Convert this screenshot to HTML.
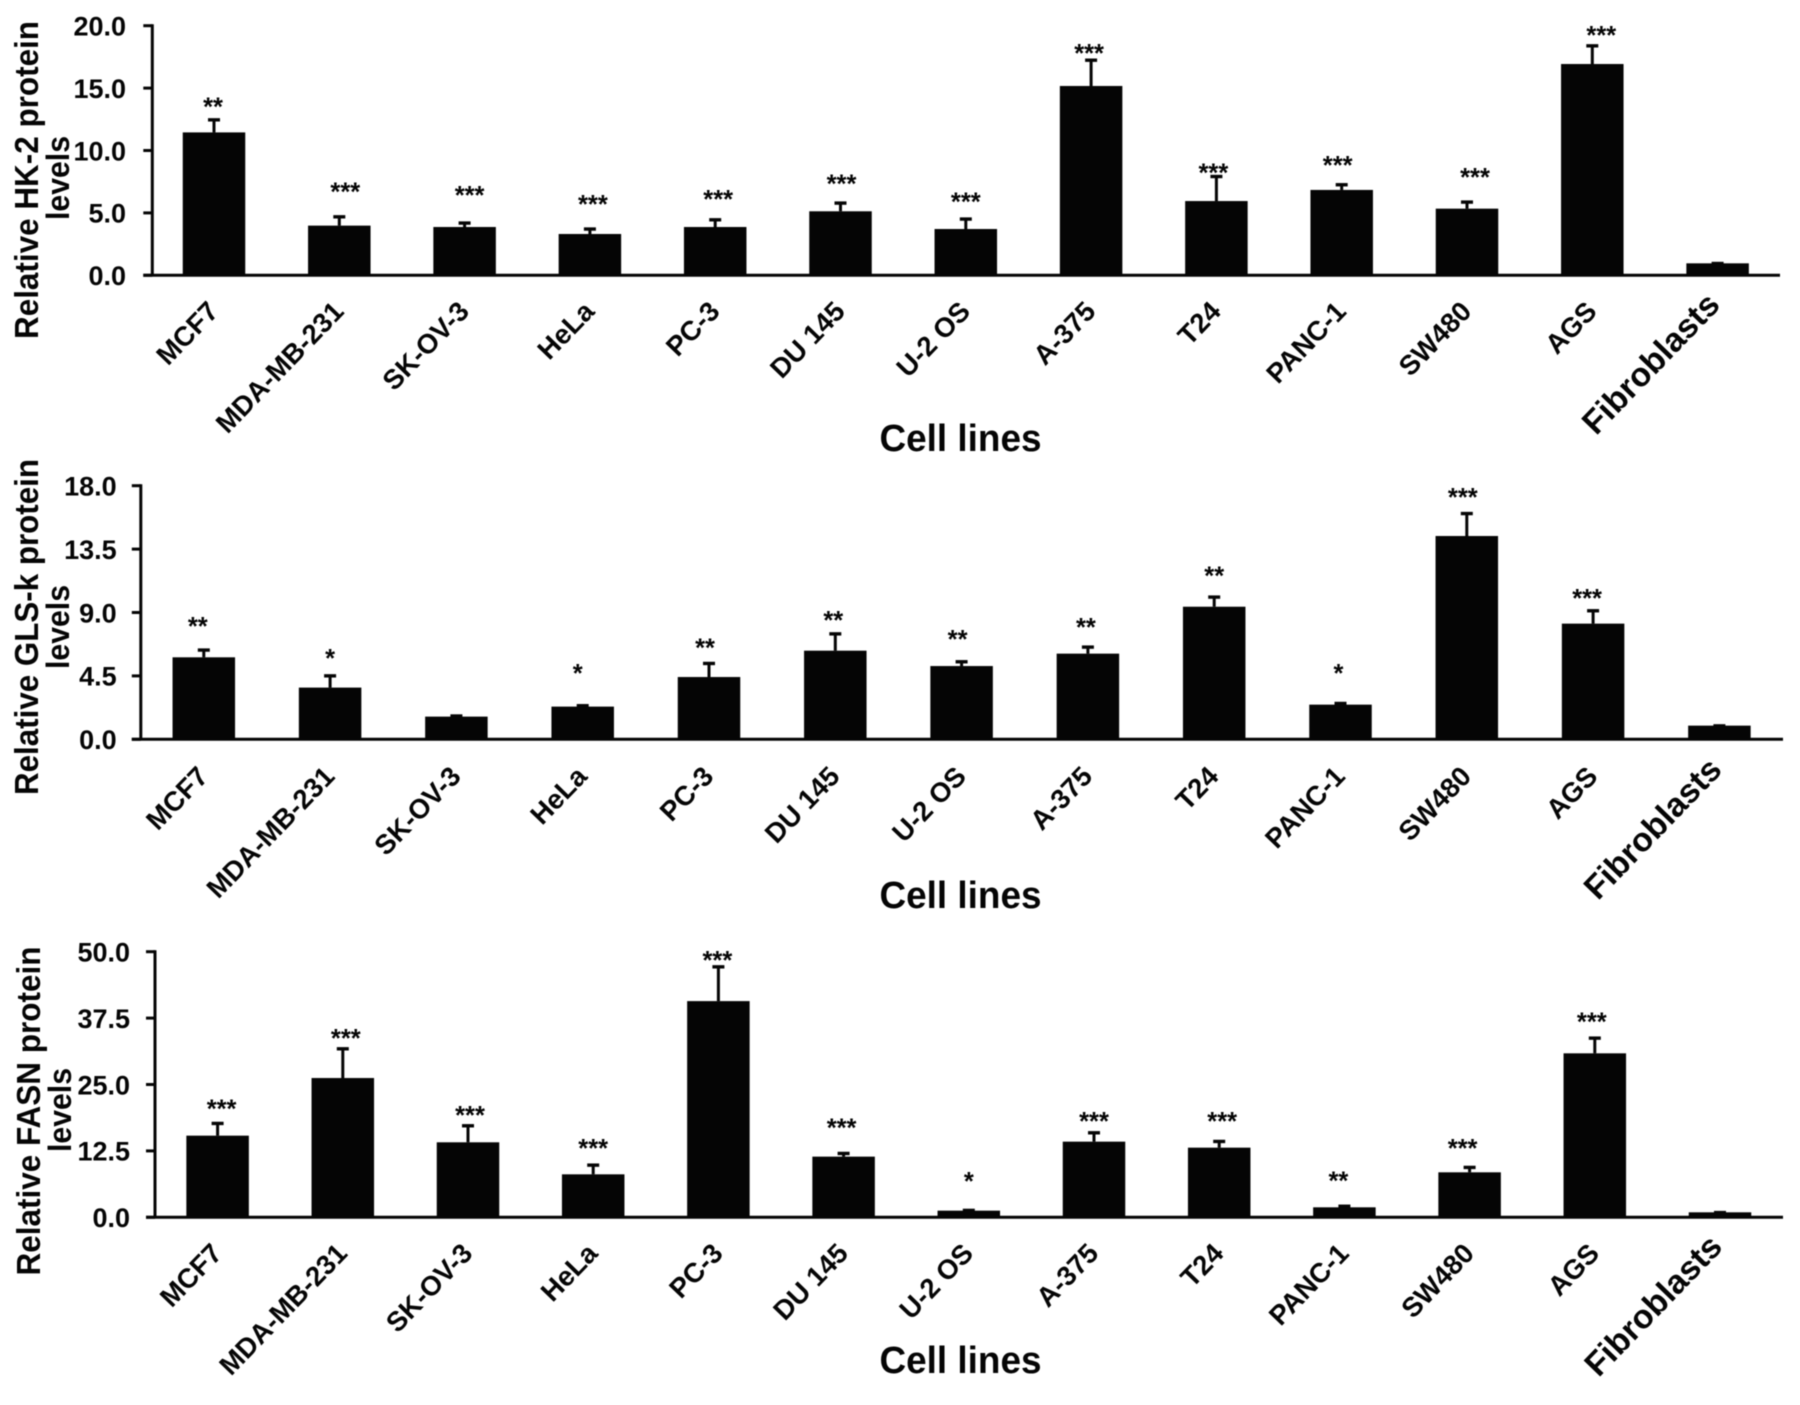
<!DOCTYPE html>
<html lang="en">
<head>
<meta charset="utf-8">
<title>Relative protein levels by cell line</title>
<style>
html,body{margin:0;padding:0;background:#fff;width:1800px;height:1405px;overflow:hidden}
svg{display:block;filter:blur(0.6px)}
text{font-family:"Liberation Sans",Arial,sans-serif;font-weight:bold;fill:#050505}
</style>
</head>
<body>
<svg id="figure" xmlns="http://www.w3.org/2000/svg" width="1800" height="1405" viewBox="0 0 1800 1405"></svg>
<script>
const categories = ["MCF7","MDA-MB-231","SK-OV-3","HeLa","PC-3","DU 145","U-2 OS","A-375","T24","PANC-1","SW480","AGS","Fibroblasts"];

const hk2Ticks = ["0.0","5.0","10.0","15.0","20.0"];
const hk2Values = [11.45,3.98,3.87,3.31,3.87,5.13,3.71,15.17,5.95,6.84,5.34,16.93,0.96];
const hk2Errors = [1.07,0.77,0.38,0.46,0.64,0.72,0.86,2.13,2.03,0.48,0.59,1.52,0.05];
const hk2Significance = ["**","***","***","***","***","***","***","***","***","***","***","***",""];
const hk2SignificanceLevels = [13.72,6.92,6.65,5.9,6.3,7.56,6.11,18.0,8.44,9.03,8.09,19.47,0];
const hk2SignificanceShift = [-1,6,5,3,3,1,0,-2,-3,-4,8,9,0];

const glsTicks = ["0.0","4.5","9.0","13.5","18.0"];
const glsValues = [5.82,3.67,1.61,2.32,4.42,6.29,5.2,6.08,9.41,2.46,14.43,8.21,0.97];
const glsErrors = [0.57,0.89,0.1,0.12,1.02,1.25,0.36,0.52,0.74,0.14,1.65,0.97,0.04];
const glsSignificance = ["**","*","","*","**","**","**","**","**","*","***","***",""];
const glsSignificanceLevels = [8.21,5.94,0,4.87,6.71,8.63,7.31,8.16,11.8,4.87,17.36,10.22,0];
const glsSignificanceShift = [-6,0,0,-5,-4,-2,-4,-2,0,-2,-4,-6,0];

const fasnTicks = ["0.0","12.5","25.0","37.5","50.0"];
const fasnValues = [15.37,26.22,14.12,8.09,40.7,11.42,1.25,14.24,13.11,1.88,8.47,30.87,0.94];
const fasnErrors = [2.45,5.65,3.26,1.88,6.6,0.75,0.2,1.82,1.32,0.35,1.07,3.01,0.1];
const fasnSignificance = ["***","***","***","***","***","***","*","***","***","**","***","***",""];
const fasnSignificanceLevels = [20.95,34.25,19.7,13.5,48.9,17.38,7.28,18.63,18.63,7.4,13.55,37.33,0];
const fasnSignificanceShift = [4,3,2,0,-1,-2,0,0,3,-6,-7,-3,0];

const panels = [
  {key:"hk2", title:"Relative HK-2 protein", ticks:hk2Ticks, values:hk2Values, errors:hk2Errors, sig:hk2Significance, sigLevels:hk2SignificanceLevels, sigShift:hk2SignificanceShift,
   axisX:152.3, top:25.7, base:275.3, first:214, step:125.3, right:1780, tickLabelX:126,
   titleX:38, titleY:180, titleLen:318, levelsX:69, levelsY:178, xTitleY:451, labelDx:6, labelDy:37.5},
  {key:"gls", title:"Relative GLS-k protein", ticks:glsTicks, values:glsValues, errors:glsErrors, sig:glsSignificance, sigLevels:glsSignificanceLevels, sigShift:glsSignificanceShift,
   axisX:140.8, top:485.7, base:739.3, first:203.8, step:126.3, right:1783, tickLabelX:116.7,
   titleX:38, titleY:627, titleLen:336, levelsX:69, levelsY:627, xTitleY:908, labelDx:6, labelDy:38.5},
  {key:"fasn", title:"Relative FASN protein", ticks:fasnTicks, values:fasnValues, errors:fasnErrors, sig:fasnSignificance, sigLevels:fasnSignificanceLevels, sigShift:fasnSignificanceShift,
   axisX:155, top:951.7, base:1217.3, first:217.6, step:125.2, right:1783, tickLabelX:130,
   titleX:40, titleY:1111, titleLen:329, levelsX:71, levelsY:1110, xTitleY:1373, labelDx:6, labelDy:37.5}
];

const NS = "http://www.w3.org/2000/svg";
const BAR_WIDTH = 62.5;
const CAP_HALF = 6;
const STROKE = 3;
const INK = "#050505";

function make(parent, tag, attrs, content) {
  const node = document.createElementNS(NS, tag);
  for (const k in attrs) node.setAttribute(k, attrs[k]);
  if (content !== undefined) node.textContent = content;
  parent.appendChild(node);
  return node;
}

function drawPanel(root, p) {
  const maxV = parseFloat(p.ticks[p.ticks.length - 1]);
  const yScale = v => p.base - (v / maxV) * (p.base - p.top);
  const xScale = i => p.first + i * p.step;

  const g = make(root, "g", {});
  
  

  p.values.forEach((v, i) => {
    const cx = xScale(i);
    const errTop = yScale(v + p.errors[i]);

    const whisker = make(g, "line", {x1:cx, x2:cx, y1:yScale(v), y2:errTop, stroke:INK, "stroke-width":STROKE});
    
    

    const cap = make(g, "line", {x1:cx - CAP_HALF, x2:cx + CAP_HALF, y1:errTop + 0.8, y2:errTop + 0.8, stroke:INK, "stroke-width":3.4});
    
    

    const bar = make(g, "rect", {x:cx - BAR_WIDTH / 2, y:yScale(v), width:BAR_WIDTH, height:p.base - yScale(v), fill:INK});
    
    

    if (p.sig[i]) {
      const star = make(g, "text", {x:cx + p.sigShift[i], y:yScale(p.sigLevels[i]) + 11.5, "text-anchor":"middle", "font-size":25.5}, p.sig[i]);
      
      
    }

    const big = categories[i] === "Fibroblasts";
    const lx = cx + p.labelDx - (big ? 2 : 0);
    const ly = p.base + p.labelDy - (big ? 6.5 : 0);
    const label = make(g, "text", {x:lx, y:ly, "text-anchor":"end", "font-size":big ? 33.5 : 27.5, transform:"rotate(-46 " + lx + " " + ly + ")"}, categories[i]);
    
    
  });

  const yAxis = make(g, "line", {x1:p.axisX, x2:p.axisX, y1:p.top - 1.5, y2:p.base, stroke:INK, "stroke-width":STROKE});
  
  

  const xAxis = make(g, "line", {x1:p.axisX - 9, x2:p.right, y1:p.base, y2:p.base, stroke:INK, "stroke-width":STROKE});
  
  

  p.ticks.forEach(t => {
    const v = parseFloat(t);
    const tick = make(g, "line", {x1:p.axisX - 9, x2:p.axisX, y1:yScale(v), y2:yScale(v), stroke:INK, "stroke-width":STROKE});
    
    

    const tl = make(g, "text", {x:p.tickLabelX, y:yScale(v) + 9.8, "text-anchor":"end", "font-size":27}, t);
    
    
  });

  const yt = make(g, "text", {x:p.titleX, y:p.titleY, "text-anchor":"middle", "font-size":33.5, textLength:p.titleLen, lengthAdjust:"spacingAndGlyphs", transform:"rotate(-90 " + p.titleX + " " + p.titleY + ")"}, p.title);
  
  

  const yt2 = make(g, "text", {x:p.levelsX, y:p.levelsY, "text-anchor":"middle", "font-size":32.5, textLength:84, lengthAdjust:"spacingAndGlyphs", transform:"rotate(-90 " + p.levelsX + " " + p.levelsY + ")"}, "levels");
  
  

  const xt = make(g, "text", {x:960.5, y:p.xTitleY, "text-anchor":"middle", "font-size":38, textLength:162, lengthAdjust:"spacingAndGlyphs"}, "Cell lines");
  
  
}

const figure = document.getElementById("figure");
panels.forEach(p => drawPanel(figure, p));
</script>
</body>
</html>
